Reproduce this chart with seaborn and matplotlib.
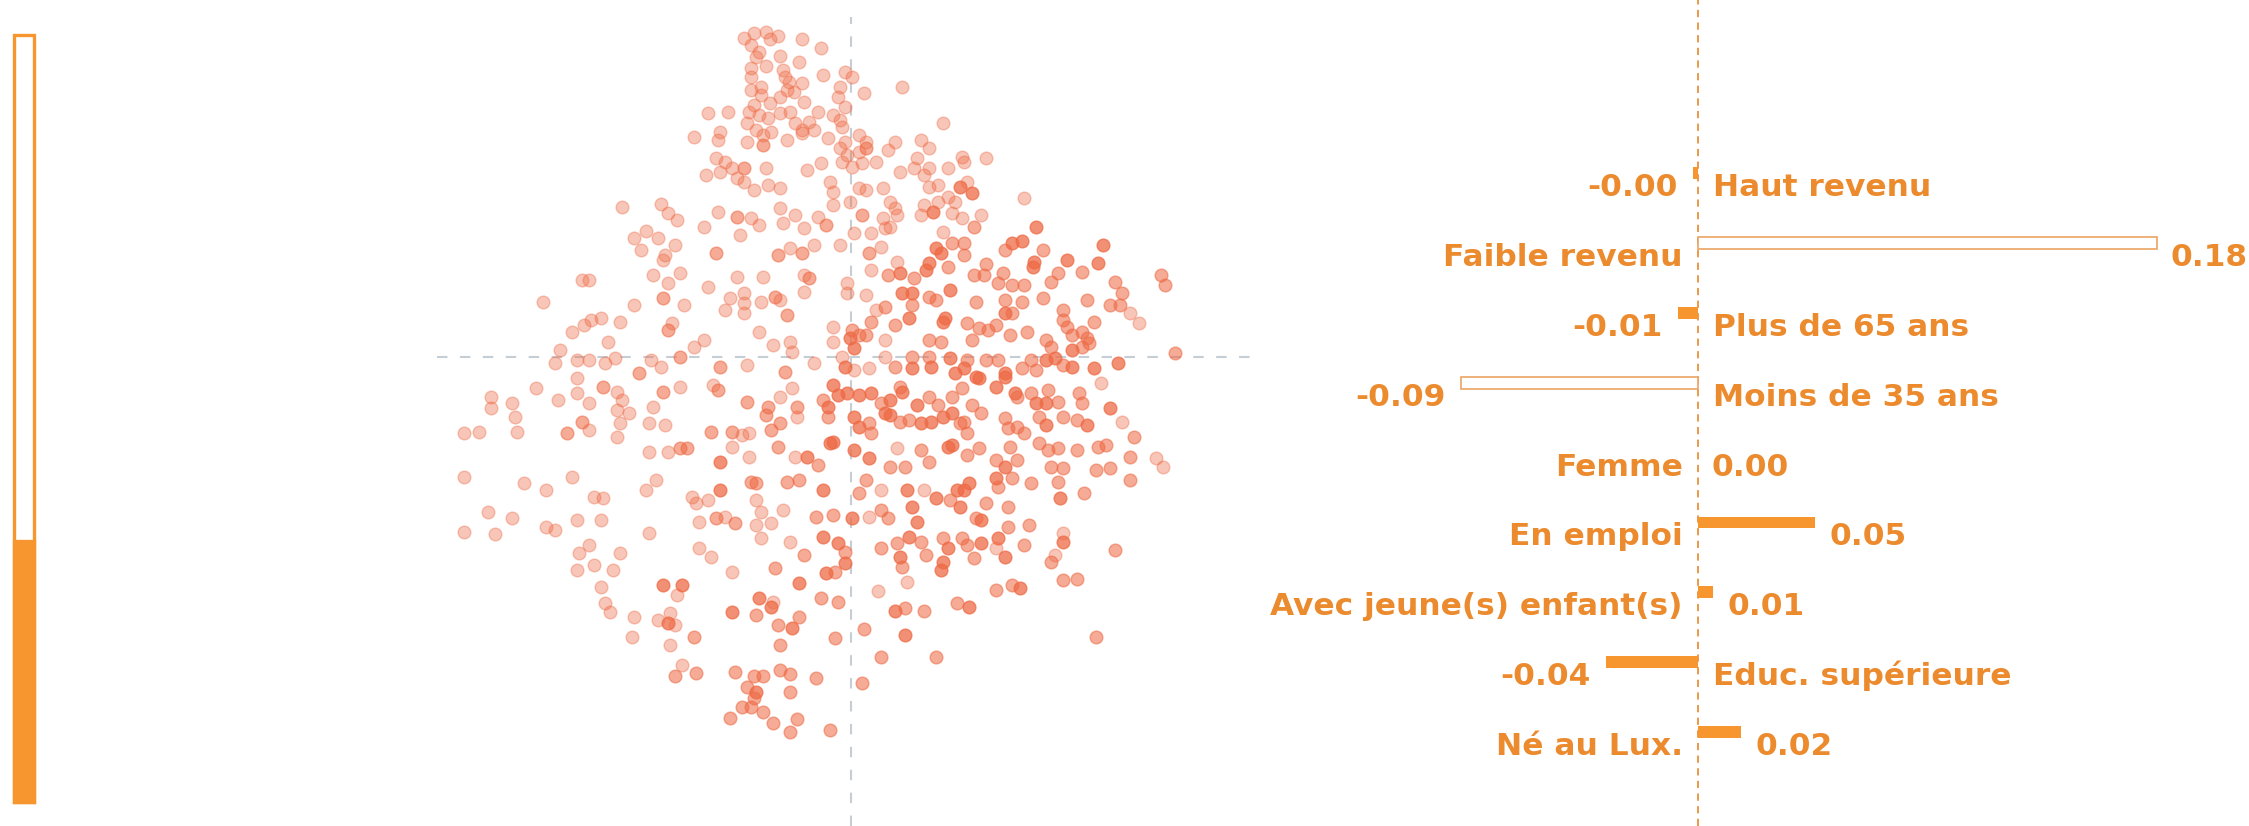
import matplotlib
matplotlib.use("Agg")
import matplotlib.pyplot as plt
import pandas as pd
import seaborn as sns

# Colours
ORANGE = "#F7952F"
TEXT_ORANGE = "#EC8A2E"
HOLLOW_EDGE = "#EBA463"
DOT = "#EE6A45"
GUIDE = "#C5CDD5"

# Left gauge: share of the population in the selected group
SHARE = 0.34

# Right panel: coefficient per characteristic
FACTORS = ["Haut revenu", "Faible revenu", "Plus de 65 ans", "Moins de 35 ans",
           "Femme", "En emploi", "Avec jeune(s) enfant(s)", "Educ. supérieure",
           "Né au Lux."]
COEFS = [-0.002, 0.180, -0.008, -0.093, 0.000, 0.046, 0.006, -0.036, 0.017]
HOLLOW = {"Faible revenu", "Moins de 35 ans"}

# Middle panel: individuals on the first two components (pc1, pc2)
LIGHT_PTS = [
    (-2.23, 9.58), (-2.03, 9.71), (-1.78, 9.74), (-1.53, 9.64), (-1.70, 9.54), (-1.03, 9.54), (-0.63, 9.26),
    (-2.08, 9.36), (-1.93, 9.16), (-1.98, 9.01), (-1.48, 9.04), (-1.08, 8.84),
    (-1.78, 8.74), (-2.08, 8.66), (-1.43, 8.61), (-1.38, 8.41), (-1.30, 8.26), (-2.08, 8.41), (-1.03, 8.21),
    (-1.33, 8.01), (-1.20, 7.96), (-1.48, 7.81),
    (-0.58, 8.46), (-0.13, 8.56), (0.02, 8.41), (-0.23, 8.11), (0.27, 7.91), (-0.28, 7.81), (1.07, 8.11),
    (-1.88, 8.11), (-2.10, 8.01), (-1.88, 7.86), (-1.70, 7.61), (-2.03, 7.56), (-2.13, 7.36), (-1.93, 7.26),
    (-1.48, 7.31), (-1.28, 7.36), (-0.98, 7.64), (-0.68, 7.36), (-0.13, 7.51), (-0.38, 7.26),
    (-2.98, 7.31), (-2.58, 7.36),
    (-2.18, 7.01), (-1.73, 7.16), (-1.18, 7.01), (-0.88, 7.06), (-0.78, 6.81), (-1.03, 6.81), (-0.23, 7.11),
    (-0.18, 6.91), (1.92, 7.01),
    (-3.28, 6.61), (-2.73, 6.76), (-2.78, 6.51), (-2.18, 6.46), (-1.98, 6.81), (-1.83, 6.66), (-1.68, 6.76),
    (-1.33, 6.51), (-1.03, 6.71), (-0.48, 6.56), (-0.13, 6.46), (0.17, 6.66), (0.32, 6.46),
    (0.17, 6.16), (-0.23, 6.26), (-0.08, 6.06), (-0.18, 5.86), (0.02, 5.71), (0.22, 5.81), (0.52, 5.86),
    (0.77, 6.21), (0.92, 6.46), (1.47, 6.51), (1.62, 6.26), (1.37, 5.96), (1.62, 5.66),
    (-2.83, 5.96), (-2.63, 5.86), (-2.48, 5.66), (-2.73, 5.56), (-3.03, 5.46), (-2.38, 5.36), (-1.78, 5.66),
    (-0.93, 5.61), (-0.63, 5.81),
    (1.02, 5.56), (1.32, 5.66), (1.52, 5.46), (2.02, 5.66), (2.37, 5.86), (2.32, 6.01), (2.82, 5.98),
    (2.42, 5.26), (1.82, 5.16), (1.62, 5.11),
    (-1.73, 5.16), (-1.48, 5.06), (-2.03, 5.01), (-2.23, 5.26), (-0.43, 5.26), (-0.38, 4.96), (0.17, 5.06),
    (0.32, 5.01), (0.67, 5.06),
    (3.62, 4.78), (2.02, 4.81), (1.82, 4.66), (1.52, 4.56), (2.17, 4.66), (2.12, 4.31), (2.32, 4.16),
    (2.72, 4.26), (1.47, 4.26),
    (-4.78, 4.51), (-3.98, 4.58), (-3.83, 4.31), (-3.63, 4.11), (-2.78, 4.36), (-2.08, 4.16), (-1.93, 3.96),
    (-1.48, 4.46), (-1.18, 4.26), (-0.68, 4.21), (-0.03, 4.66), (-0.38, 4.56), (0.82, 4.66), (0.92, 4.46),
    (0.67, 4.16), (0.97, 4.26), (0.82, 3.91),
    (-4.28, 3.78), (-4.53, 3.58), (-4.03, 3.56), (-3.68, 3.36), (-3.08, 3.91), (-2.33, 3.66), (-1.43, 4.01),
    (-0.98, 3.86), (-0.78, 3.36), (-0.23, 3.36), (0.07, 3.71), (0.42, 3.71), (0.72, 3.86),
    (-4.38, 3.21), (-3.88, 3.06), (-1.28, 3.26), (0.62, 3.31), (1.92, 3.76), (-3.93, 2.91), (0.97, 2.86),
    (-3.58, 2.51), (-4.13, 2.46), (-3.83, 2.21), (-5.48, 2.31), (-5.63, 2.31), (-2.98, 2.11), (-2.38, 2.41),
    (-1.83, 2.41), (-0.98, 2.46), (-0.08, 2.21), (0.42, 2.61),
    (-6.43, 1.66), (-4.53, 1.56), (-3.48, 1.56), (-2.53, 1.76), (-2.23, 1.91), (-2.23, 1.61), (-1.88, 1.66),
    (-1.48, 1.71), (-0.98, 1.96), (-0.08, 1.91), (0.32, 1.86), (0.52, 1.41), (5.82, 1.31), (6.02, 1.01),
    (-5.83, 0.76), (-5.58, 0.96), (-5.43, 1.11), (-5.23, 1.16), (-5.08, 0.46), (-4.83, 1.06), (-3.73, 1.01),
    (-3.28, 0.31), (-3.08, 0.51), (-2.63, 1.41), (-2.23, 1.31), (-1.93, 0.76), (-1.63, 0.36), (-1.28, 0.46),
    (-1.23, 0.16), (-0.38, 0.91), (-0.38, 0.46), (0.72, 0.51),
    (-6.08, 0.21), (-6.18, -0.19), (-5.73, -0.09), (-5.48, -0.09), (-5.13, -0.19), (-4.93, -0.04),
    (-4.18, -0.09), (-3.98, -0.29), (-2.18, -0.24), (-0.78, -0.19), (-0.18, 0.01), (0.07, -0.39),
    (0.37, -0.34), (0.72, 0.01),
    (-6.58, -0.94), (-6.13, -1.29), (-5.73, -0.64), (-5.73, -1.09), (-5.48, -1.39), (-4.88, -1.04),
    (-4.78, -1.29), (-3.58, -0.89), (-2.88, -0.84), (-1.48, -1.19), (-1.23, -0.94), (5.22, -0.79),
    (-7.53, -1.19), (-7.53, -1.54), (-7.08, -1.39), (-7.03, -1.79), (-6.98, -2.24), (-8.08, -2.29),
    (-7.78, -2.24), (-5.48, -2.19), (-4.88, -1.59), (-4.83, -1.99), (-4.88, -2.39), (-4.63, -1.69),
    (-4.23, -1.99), (-4.13, -1.49), (-3.88, -2.04), (-2.28, -2.34), (-2.13, -2.29), (-1.13, -1.79),
    (5.67, -1.94),
    (-4.23, -2.84), (-3.83, -2.84), (-2.48, -2.69), (-2.13, -2.99), (-1.18, -2.99), (0.97, -2.74),
    (6.37, -3.04), (6.52, -3.29),
    (-8.08, -3.59), (-6.83, -3.79), (-6.38, -3.99), (-5.83, -3.59), (-5.38, -4.19), (-5.18, -4.24),
    (-4.28, -3.99), (-4.08, -3.69), (-3.33, -4.19), (-3.23, -4.39), (-2.98, -4.29), (-1.98, -4.29),
    (0.62, -3.99), (1.52, -3.99),
    (-7.58, -4.64), (-7.08, -4.84), (-8.08, -5.24), (-7.43, -5.32), (-6.38, -5.09), (-6.18, -5.19),
    (-5.73, -4.89), (-5.23, -4.89), (-4.23, -5.29), (-3.18, -4.94), (-2.63, -4.79), (-1.98, -5.04),
    (-1.68, -4.99), (-1.88, -4.64), (-1.43, -4.59), (0.37, -4.79), (-1.88, -5.44), (-1.28, -5.54),
    (3.02, -5.74), (4.42, -5.29), (4.27, -5.94), (-5.68, -5.89), (-5.48, -5.64), (-4.83, -5.89),
    (-3.18, -5.74), (-2.93, -5.99), (-5.73, -6.39), (-5.38, -6.24), (-4.98, -6.39), (-2.48, -6.44),
    (-5.23, -6.89), (-3.63, -7.14), (1.17, -6.74), (0.57, -7.02), (-5.13, -7.39), (-5.03, -7.64),
    (-4.53, -7.79), (-4.03, -7.89), (-3.78, -7.69), (-3.68, -8.04), (-1.63, -7.34), (-4.58, -8.39),
    (-3.78, -8.64), (-3.53, -9.24),
]
MID_PTS = [
    (-1.83, 6.36), (-2.23, 5.66), (-2.38, 4.21), (-0.53, 3.96), (0.22, 4.26), (-2.83, 3.11), (-1.53, 3.06),
    (-1.03, 3.11), (0.32, 6.26), (0.37, 3.11), (2.57, 3.91), (2.12, 3.41), (2.37, 3.41), (3.22, 3.21),
    (4.02, 3.21), (2.37, 3.06), (2.82, 2.78),
    (-0.88, 2.36), (0.77, 2.46), (1.32, 2.36), (2.02, 2.71), (2.57, 2.46), (2.77, 2.46), (3.07, 2.21),
    (3.17, 2.51), (3.37, 2.16), (3.62, 2.16), (4.17, 2.26), (4.32, 2.51), (4.82, 2.56), (5.52, 2.26),
    (6.47, 2.46), (6.57, 2.16),
    (-3.93, 1.76), (-1.58, 1.81), (-1.33, 1.26), (0.72, 1.51), (1.27, 1.56), (1.62, 1.81), (1.77, 1.71),
    (2.62, 1.66), (3.22, 1.71), (3.37, 1.31), (3.57, 1.66), (4.02, 1.76), (4.42, 1.41), (4.92, 1.71),
    (5.42, 1.56), (5.62, 1.56), (5.67, 1.91),
    (-3.83, 0.81), (0.02, 0.81), (0.17, 0.66), (0.32, 0.66), (0.42, 1.06), (0.92, 0.96), (1.62, 0.51),
    (1.87, 0.46), (2.42, 1.01), (2.52, 0.51), (2.67, 0.86), (2.87, 0.81), (3.02, 0.96), (3.32, 0.66),
    (3.67, 0.76), (4.07, 0.51), (4.17, 0.31), (4.42, 1.11), (4.52, 0.91), (4.62, 0.66), (4.82, 0.76),
    (4.92, 0.56), (5.07, 1.06), (4.82, 0.31), (4.97, 0.41),
    (-4.43, -0.49), (-3.58, 0.01), (-2.73, -0.29), (-1.38, -0.44), (0.92, -0.29), (1.27, 0.01), (1.62, 0.01),
    (2.42, -0.09), (2.82, -0.09), (3.07, -0.09), (3.57, -0.34), (3.77, -0.09), (3.87, -0.39), (4.42, -0.24),
    (6.77, 0.13),
    (-5.18, -0.89), (-3.93, -1.04), (-2.78, -0.99), (-2.18, -1.34), (-1.73, -1.49), (-1.13, -1.49),
    (-0.58, -1.29), (0.62, -1.39), (1.02, -0.89), (1.62, -1.19), (1.82, -1.44), (2.12, -1.19), (2.32, -0.94),
    (2.52, -1.44), (3.47, -1.19), (3.77, -1.09), (4.32, -1.34), (4.12, -0.99), (4.77, -1.09), (4.82, -1.39),
    (-5.93, -2.29), (-5.63, -1.94), (-2.93, -2.24), (-2.48, -2.24), (-1.78, -1.74), (-1.68, -2.19),
    (-1.48, -1.99), (-0.48, -1.79), (0.37, -1.99), (0.42, -2.29), (1.02, -1.94), (1.22, -1.89), (2.27, -1.99),
    (2.37, -1.94), (2.42, -2.29), (2.72, -1.69), (3.22, -1.84), (3.27, -2.14), (3.47, -2.09), (3.62, -2.29),
    (3.92, -1.79), (4.42, -1.79), (4.72, -1.89), (5.92, -2.39),
    (-3.58, -2.74), (-3.43, -2.74), (-1.53, -2.69), (-0.68, -3.24), (0.82, -3.29), (1.12, -3.29),
    (1.47, -2.79), (1.62, -3.14), (2.42, -2.94), (2.67, -2.74), (3.02, -3.09), (3.32, -2.69), (3.47, -3.09),
    (3.92, -2.59), (4.12, -2.79), (4.32, -2.74), (4.72, -2.79), (5.17, -2.69), (5.32, -2.64), (5.82, -2.99),
    (4.17, -3.29), (4.42, -3.34), (5.12, -3.39), (5.42, -3.34),
    (-2.08, -3.74), (-1.98, -3.79), (-1.33, -3.74), (-1.08, -3.69), (0.17, -4.09), (0.32, -3.69),
    (3.07, -3.89), (3.37, -3.64), (3.77, -3.79), (4.32, -3.74), (4.87, -4.09), (5.82, -3.69), (2.07, -4.29),
    (2.82, -4.39), (3.27, -4.49),
    (-2.83, -4.84), (-2.43, -4.99), (-0.73, -4.79), (-0.38, -4.74), (0.62, -4.59), (0.77, -4.84),
    (2.62, -4.84), (3.27, -5.09), (3.72, -5.04), (-0.13, -5.84), (-0.98, -5.94), (0.97, -5.59), (1.47, -5.54),
    (1.92, -5.44), (2.32, -5.44), (2.42, -5.64), (3.62, -5.64), (5.52, -5.79), (0.62, -5.74), (1.07, -6.29),
    (1.57, -5.94), (2.57, -6.04), (4.17, -6.14), (-1.58, -6.34), (-0.33, -6.44), (3.02, -6.99), (3.37, -6.84),
    (4.42, -6.69), (4.72, -6.66), (-1.98, -7.74), (-1.08, -7.79), (-1.53, -8.04), (-0.63, -7.24),
    (-0.28, -7.34), (1.12, -7.54), (1.52, -7.62), (2.22, -7.39), (-3.28, -8.39), (-1.48, -8.64),
    (-0.33, -8.44), (0.27, -8.16), (5.12, -8.39), (-3.68, -9.56), (-3.23, -9.49), (-2.43, -9.44),
    (-2.03, -9.56), (-1.83, -9.56), (-1.48, -9.39), (-1.28, -9.52), (-0.73, -9.62), (0.22, -9.79),
    (0.62, -8.99), (1.77, -8.99), (-2.18, -9.89), (-2.03, -10.24), (-1.28, -10.06), (-2.28, -10.49),
    (-2.08, -10.49), (-1.83, -10.64), (-2.53, -10.84), (-1.63, -10.99), (-1.13, -10.86), (-1.28, -11.24),
    (-0.43, -11.19),
]
DARK_PTS = [
    (2.27, 5.11), (2.52, 4.91), (1.72, 4.36), (3.87, 3.91), (5.27, 3.36), (3.37, 3.41), (3.57, 3.48),
    (4.52, 2.91), (3.82, 2.86), (5.17, 2.81), (1.77, 3.26), (1.87, 3.11), (1.62, 2.81),
    (1.02, 2.51), (1.57, 2.61), (3.80, 2.71),
    (1.07, 1.91), (1.27, 1.91), (2.07, 2.01), (3.22, 1.31),
    (-0.03, 0.56), (0.07, 0.26), (1.22, 1.16), (1.92, 1.06), (1.97, 1.16), (4.62, 0.21),
    (-0.13, -0.29), (1.27, -0.34), (1.67, -0.29), (2.07, -0.04), (2.17, -0.49), (2.37, -0.34), (2.62, -0.59),
    (3.22, -0.49), (4.07, -0.09), (4.27, -0.04), (4.62, -0.29), (5.07, -0.34), (5.57, -0.19),
    (-0.38, -0.84), (-0.28, -1.14), (-0.08, -1.09), (0.17, -1.14), (0.42, -1.09), (0.82, -1.29),
    (1.07, -1.04), (1.37, -1.44), (2.67, -0.64), (3.02, -0.89), (3.22, -0.59), (3.42, -1.09), (3.87, -1.39),
    (4.07, -1.39), (5.42, -1.54),
    (-0.48, -1.49), (-0.38, -2.54), (0.07, -1.79), (0.17, -2.09), (0.72, -1.69), (0.82, -1.74),
    (1.47, -1.99), (1.67, -1.94), (1.92, -1.79), (2.12, -1.69), (4.07, -2.04), (4.92, -2.04),
    (-2.73, -3.14), (-0.93, -2.99), (-0.43, -2.59), (0.07, -2.79), (0.37, -3.04), (2.02, -2.69),
    (2.12, -2.64), (3.22, -3.29),
    (-2.73, -3.99), (-0.58, -3.99), (1.17, -3.99), (1.77, -4.24), (2.22, -3.99), (2.37, -3.99),
    (2.47, -3.79), (3.02, -3.64), (4.37, -4.24), (1.27, -4.49), (2.27, -4.49),
    (0.02, -4.84), (1.37, -4.94), (2.72, -4.89), (-0.58, -5.39), (-0.28, -5.59), (1.22, -5.39),
    (2.02, -5.74), (2.72, -5.59), (3.07, -5.44), (3.22, -5.99), (4.42, -5.54), (1.02, -5.99), (1.92, -6.14),
    (1.87, -6.39), (-0.53, -6.49), (-0.13, -6.19), (-3.93, -6.84), (-3.53, -6.84), (-1.08, -6.79),
    (3.52, -6.94), (-3.83, -7.99), (-2.48, -7.64), (-1.93, -7.24), (-1.68, -7.49), (-1.23, -8.14),
    (0.92, -7.62), (2.47, -7.49), (1.12, -8.34), (-1.98, -10.06),
]

SHADE_ALPHA = {"light": 0.38, "mid": 0.56, "dark": 0.74}

W, H = 2249, 826

sns.set_theme(style="white")
plt.rcParams["font.family"] = ["DejaVu Sans"]

fig = plt.figure(figsize=(W / 100, H / 100), dpi=100)
fig.patch.set_facecolor("white")

# Gauge
ax_g = fig.add_axes([13.5 / W, 24 / H, 20 / W, 767 / H])
ax_g.bar([0], [1], width=1, fill=False, edgecolor=ORANGE, linewidth=2.4,
         clip_on=False)
ax_g.bar([0], [SHARE], width=1, color=ORANGE, edgecolor=ORANGE,
         linewidth=2.4, clip_on=False)
ax_g.set_xlim(-0.5, 0.5)
ax_g.set_ylim(0, 1)
ax_g.axis("off")

# Scatter of individuals
ax_s = fig.add_axes([437 / W, 0, 818 / W, 809 / H])
ax_s.axhline(0, color=GUIDE, lw=1.5, ls=(0, (5, 6)), zorder=0)
ax_s.axvline(0, color=GUIDE, lw=1.5, ls=(0, (5, 6)), zorder=0)
for shade, pts in [("light", LIGHT_PTS), ("mid", MID_PTS), ("dark", DARK_PTS)]:
  df = pd.DataFrame(pts, columns=["pc1", "pc2"])
  sns.scatterplot(data=df, x="pc1", y="pc2", color=DOT, edgecolor=DOT,
                  alpha=SHADE_ALPHA[shade], s=84, linewidth=1.0, ax=ax_s)
ax_s.set_xlim(-8.65, 8.44)
ax_s.set_ylim(-14.07, 10.2)
ax_s.axis("off")

# Coefficient bars
ax_b = fig.add_axes([1250 / W, 0, 999 / W, 1])
coef_df = pd.DataFrame({"factor": FACTORS, "coef": COEFS})
sns.barplot(data=coef_df, x="coef", y="factor", orient="h", color=ORANGE,
            saturation=1, width=0.17, ax=ax_b)
for patch, name in zip(ax_b.patches, FACTORS):
  if name in HOLLOW:
    patch.set_facecolor("white")
    patch.set_edgecolor(HOLLOW_EDGE)
    patch.set_linewidth(1.2)
  else:
    patch.set_linewidth(0)
ax_b.axvline(0, color="#E8913A", lw=1.3, ls=(0, (4, 3)), zorder=0)

label_kw = dict(textcoords="offset points", va="baseline", color=TEXT_ORANGE,
                fontsize=22.5, fontweight="bold")
for i, (name, val) in enumerate(zip(FACTORS, COEFS)):
  if val >= 0:
    ax_b.annotate(name, (0, i), xytext=(-11, -16.5), ha="right", **label_kw)
    ax_b.annotate(f"{val:.2f}", (val, i), xytext=(10, -16.5), ha="left",
                  **label_kw)
  else:
    ax_b.annotate(name, (0, i), xytext=(11, -16.5), ha="left", **label_kw)
    ax_b.annotate(f"{val:.2f}", (val, i), xytext=(-11, -16.5), ha="right",
                  **label_kw)
ax_b.set_xlim(-0.1757, 0.2161)
ax_b.set_ylim(9.342, -2.475)
ax_b.axis("off")

fig.savefig("out.png", dpi=100, facecolor="white")
